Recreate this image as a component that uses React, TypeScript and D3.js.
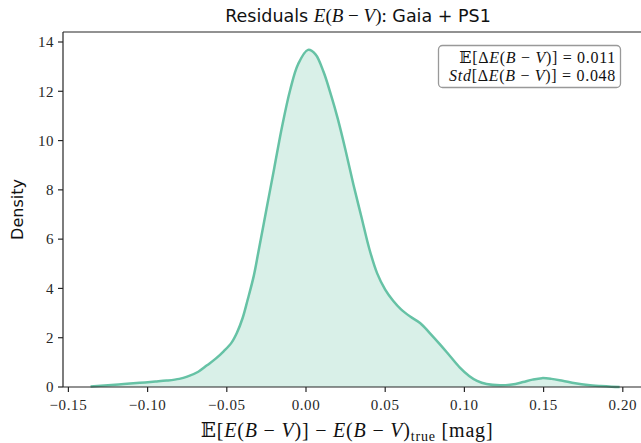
import React from "react";
import * as d3 from "d3";

const residualX = [-0.136, -0.125, -0.115, -0.105, -0.095, -0.088, -0.08, -0.075, -0.068, -0.0625, -0.057, -0.052, -0.047, -0.0436, -0.04, -0.037, -0.033, -0.03, -0.025, -0.02, -0.015, -0.01, -0.005, 0.0013, 0.006, 0.011, 0.016, 0.02, 0.025, 0.03, 0.035, 0.04, 0.045, 0.05, 0.055, 0.06, 0.066, 0.072, 0.078, 0.085, 0.091, 0.097, 0.103, 0.108, 0.114, 0.1225, 0.13, 0.137, 0.143, 0.149, 0.155, 0.162, 0.17, 0.178, 0.186, 0.193, 0.198];
const density = [0.02, 0.07, 0.12, 0.17, 0.22, 0.26, 0.33, 0.42, 0.62, 0.88, 1.15, 1.45, 1.8, 2.2, 2.8, 3.5, 4.5, 5.5, 7.2, 8.9, 10.6, 12.05, 13.1, 13.68, 13.5, 12.8, 11.8, 10.9, 9.6, 8.2, 6.9, 5.6, 4.6, 3.95, 3.5, 3.15, 2.85, 2.6, 2.2, 1.7, 1.25, 0.8, 0.45, 0.25, 0.12, 0.07, 0.1, 0.2, 0.3, 0.36, 0.33, 0.25, 0.15, 0.08, 0.04, 0.015, 0.005];
const xTicks = [-0.15, -0.1, -0.05, 0.0, 0.05, 0.1, 0.15, 0.2];
const yTicks = [0, 2, 4, 6, 8, 10, 12, 14];
const meanText = "0.011";
const stdText = "0.048";

export default function App() {
  const W = 641, H = 443;
  const left = 63, right = 660, top = 32, bottom = 387;
  const x = d3.scaleLinear().domain([0, 0.05]).range([306, 385.2]);
  const y = d3.scaleLinear().domain([0, 14]).range([bottom, 42]);
  const pts: [number, number][] = residualX.map((v, i) => [v, density[i]]);
  const line = d3.line<[number, number]>().x(d => x(d[0])).y(d => y(d[1])).curve(d3.curveCatmullRom);
  const area = d3.area<[number, number]>().x(d => x(d[0])).y0(y(0)).y1(d => y(d[1])).curve(d3.curveCatmullRom);
  const serif = "'Liberation Serif', 'DejaVu Serif', serif";
  const sans = "'DejaVu Sans', sans-serif";
  const fmt = (v: number) => (v < 0 ? "\u2212" : "") + Math.abs(v).toFixed(2);
  const color = "#66c2a5";
  return (
    <svg width={W} height={H} style={{ position: "absolute", left: 0, top: 0 }}>
      <rect x={0} y={0} width={W} height={H} fill="#fff" />
      <path d={area(pts) || ""} fill={color} fillOpacity={0.25} />
      <path d={line(pts) || ""} fill="none" stroke={color} strokeWidth={2.5} />
      {/* spines */}
      <line x1={left} x2={right} y1={top} y2={top} stroke="#262626" strokeWidth={1.2} />
      <line x1={left} x2={right} y1={bottom} y2={bottom} stroke="#262626" strokeWidth={1.2} />
      <line x1={left} x2={left} y1={top} y2={bottom} stroke="#262626" strokeWidth={1.2} />
      {yTicks.map(t => (
        <g key={"y" + t}>
          <line x1={left - 5} x2={left} y1={y(t)} y2={y(t)} stroke="#262626" strokeWidth={1.2} />
          <text x={left - 9} y={y(t)} dy="0.35em" textAnchor="end" fontFamily={serif} fontSize={15} letterSpacing={0.5} fill="#262626">{t}</text>
        </g>
      ))}
      {xTicks.map(t => (
        <g key={"x" + t}>
          <line x1={x(t)} x2={x(t)} y1={bottom} y2={bottom + 5} stroke="#262626" strokeWidth={1.2} />
          <text x={x(t)} y={bottom + 23} textAnchor="middle" fontFamily={serif} fontSize={15} letterSpacing={0.6} fill="#262626">{fmt(t)}</text>
        </g>
      ))}
      {/* title */}
      <text x={358} y={22} textAnchor="middle" fontSize={17.5} fill="#111">
        <tspan fontFamily={sans}>Residuals </tspan>
        <tspan fontFamily={serif} fontStyle="italic" fontSize={19}>E</tspan>
        <tspan fontFamily={serif} fontSize={19}>(</tspan>
        <tspan fontFamily={serif} fontStyle="italic" fontSize={19}>B</tspan>
        <tspan fontFamily={serif} fontSize={19}> {"\u2212"} </tspan>
        <tspan fontFamily={serif} fontStyle="italic" fontSize={19}>V</tspan>
        <tspan fontFamily={serif} fontSize={19}>):</tspan>
        <tspan fontFamily={sans}> Gaia + PS1</tspan>
      </text>
      {/* y label */}
      <text transform={`translate(23,${(top + bottom) / 2}) rotate(-90)`} textAnchor="middle" fontFamily={sans} fontSize={16} fill="#111">Density</text>
      {/* x label */}
      <text x={347} y={437} textAnchor="middle" fontFamily={serif} fontSize={20} letterSpacing={0.8} fill="#111">
        <tspan>{"\uD835\uDD3C"}[</tspan>
        <tspan fontStyle="italic">E</tspan>
        <tspan>(</tspan>
        <tspan fontStyle="italic">B</tspan>
        <tspan> {"\u2212"} </tspan>
        <tspan fontStyle="italic">V</tspan>
        <tspan>)] {"\u2212"} </tspan>
        <tspan fontStyle="italic">E</tspan>
        <tspan>(</tspan>
        <tspan fontStyle="italic">B</tspan>
        <tspan> {"\u2212"} </tspan>
        <tspan fontStyle="italic">V</tspan>
        <tspan>)</tspan>
        <tspan fontSize={14} dy={4}>true</tspan>
        <tspan dy={-4}> [mag]</tspan>
      </text>
      {/* legend box */}
      <rect x={438.5} y={45.5} width={182} height={42} rx={4} fill="#fff" fillOpacity={0.8} stroke="#999" strokeWidth={1.3} />
      <text x={616} y={63} textAnchor="end" fontFamily={serif} fontSize={16} letterSpacing={0.7} fill="#111">
        <tspan>{"\uD835\uDD3C"}[{"\u0394"}</tspan>
        <tspan fontStyle="italic">E</tspan>
        <tspan>(</tspan>
        <tspan fontStyle="italic">B</tspan>
        <tspan> {"\u2212"} </tspan>
        <tspan fontStyle="italic">V</tspan>
        <tspan>)] = {meanText}</tspan>
      </text>
      <text x={616} y={81} textAnchor="end" fontFamily={serif} fontSize={16} letterSpacing={0.7} fill="#111">
        <tspan fontStyle="italic">Std</tspan>
        <tspan>[{"\u0394"}</tspan>
        <tspan fontStyle="italic">E</tspan>
        <tspan>(</tspan>
        <tspan fontStyle="italic">B</tspan>
        <tspan> {"\u2212"} </tspan>
        <tspan fontStyle="italic">V</tspan>
        <tspan>)] = {stdText}</tspan>
      </text>
    </svg>
  );
}
